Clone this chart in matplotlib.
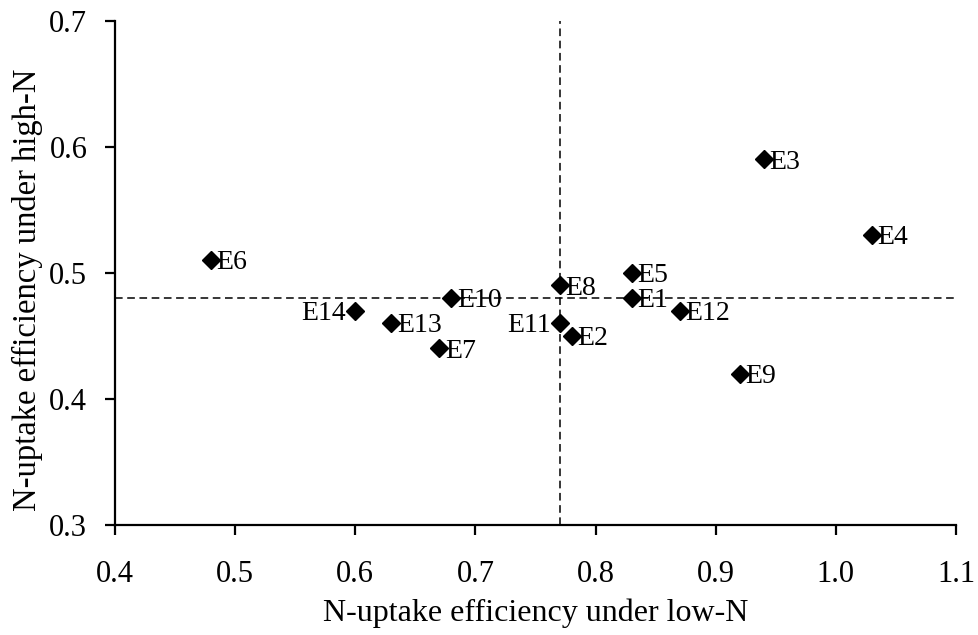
import matplotlib
matplotlib.use("Agg")
import matplotlib.pyplot as plt

plt.rcParams["font.family"] = ["Liberation Serif", "DejaVu Serif"]

# genotypes and their N-uptake efficiency
names = ["E1", "E2", "E3", "E4", "E5", "E6", "E7",
         "E8", "E9", "E10", "E11", "E12", "E13", "E14"]
low_n = [0.83, 0.78, 0.94, 1.03, 0.83, 0.48, 0.67,
         0.77, 0.92, 0.68, 0.77, 0.87, 0.63, 0.60]
high_n = [0.48, 0.45, 0.59, 0.53, 0.50, 0.51, 0.44,
          0.49, 0.42, 0.48, 0.46, 0.47, 0.46, 0.47]
mean_low = 0.77
mean_high = 0.48
left_labels = ["E11", "E14"]

xticks = [0.4, 0.5, 0.6, 0.7, 0.8, 0.9, 1.0, 1.1]
yticks = [0.3, 0.4, 0.5, 0.6, 0.7]

fig = plt.figure(figsize=(9.79, 6.35), dpi=100)
ax = fig.add_axes([0.1175, 0.1732, 0.859, 0.7945])

ax.axvline(mean_low, color="black", lw=1.1, ls=(0, (5, 3)), zorder=1)
ax.axhline(mean_high, color="black", lw=1.1, ls=(0, (5, 3)), zorder=1)

ax.plot(low_n, high_n, ls="none", marker="D", ms=9, color="black", zorder=3)

for n, x, y in zip(names, low_n, high_n):
    if n in left_labels:
        ax.annotate(n, (x, y), xytext=(-6.5, -2), textcoords="offset points",
                    ha="right", va="center", fontsize=20)
    else:
        ax.annotate(n, (x, y), xytext=(4, -2), textcoords="offset points",
                    ha="left", va="center", fontsize=20)

ax.set_xlim(0.4, 1.1)
ax.set_ylim(0.3, 0.7)
ax.set_xticks(xticks)
ax.set_yticks(yticks)
ax.set_xticklabels([f"{v:.1f}" for v in xticks])
ax.set_yticklabels([f"{v:.1f}" for v in yticks])

for s in ["top", "right"]:
    ax.spines[s].set_visible(False)
for s in ["left", "bottom"]:
    ax.spines[s].set_linewidth(1.6)

ax.tick_params(direction="out", length=7, width=1.6, labelsize=22)
ax.tick_params(axis="x", pad=18)
ax.tick_params(axis="y", pad=13)
ax.set_xlabel("N-uptake efficiency under low-N", fontsize=23, labelpad=7)
ax.set_ylabel("N-uptake efficiency under high-N", fontsize=23.5)
# the y title sits a little below the middle of the axis in the original
ax.yaxis.set_label_coords(-0.086, 0.466)

fig.savefig("out.png", dpi=100)
